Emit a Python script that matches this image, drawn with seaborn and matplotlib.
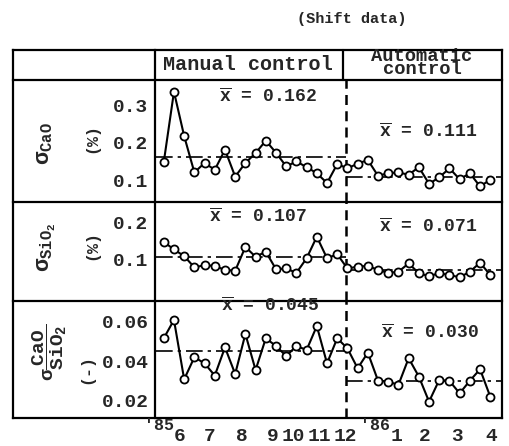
import numpy as np
import pandas as pd
import matplotlib
matplotlib.use('Agg')
import matplotlib.pyplot as plt
import seaborn as sns

# shift data: three readings a month, May '85 .. Apr '86
# first 18 readings manual control, the rest automatic control
n_manual = 18
period = 5.45 + np.arange(33) / 3.0

sigma_cao = [0.149, 0.335, 0.218, 0.122, 0.147, 0.129, 0.182, 0.111, 0.147, 0.173,
             0.206, 0.174, 0.138, 0.151, 0.136, 0.120, 0.094, 0.144,
             0.133, 0.145, 0.155, 0.113, 0.120, 0.122, 0.116, 0.136, 0.092, 0.109,
             0.133, 0.104, 0.120, 0.085, 0.103]
sigma_sio2 = [0.148, 0.127, 0.109, 0.078, 0.084, 0.082, 0.071, 0.069, 0.134, 0.107,
              0.121, 0.073, 0.075, 0.063, 0.103, 0.162, 0.103, 0.114,
              0.075, 0.080, 0.082, 0.071, 0.063, 0.066, 0.089, 0.062, 0.054, 0.062,
              0.057, 0.051, 0.066, 0.091, 0.057]
sigma_ratio = [0.0516, 0.0609, 0.0308, 0.0420, 0.0389, 0.0327, 0.0470, 0.0335, 0.0538, 0.0355,
               0.0516, 0.0477, 0.0426, 0.0477, 0.0457, 0.0578, 0.0389, 0.0516,
               0.0465, 0.0364, 0.0443, 0.0301, 0.0296, 0.0280, 0.0415, 0.0322, 0.0195, 0.0305,
               0.0300, 0.0237, 0.0301, 0.0359, 0.0220]

mean_cao = [0.162, 0.111]
mean_sio2 = [0.107, 0.071]
mean_ratio = [0.045, 0.030]

month_ticks = [6, 7, 8, 9, 10, 11, 12, 13, 14, 15, 16]
# typed labels drift off the ticks a little
month_label_pos = [5.98, 6.96, 7.99, 9.02, 9.67, 10.55, 11.37, 13.06, 13.98, 15.02, 16.16]
month_labels = ['6', '7', '8', '9', '10', '11', '12', '1', '2', '3', '4']
split = 11.40

sns.set_style('white')
plt.rcParams['font.family'] = ['Liberation Mono', 'DejaVu Sans']
plt.rcParams['font.weight'] = 'bold'
plt.rcParams['mathtext.fontset'] = 'custom'
plt.rcParams['mathtext.rm'] = 'Liberation Mono:bold'
plt.rcParams['mathtext.it'] = 'Liberation Mono:bold'
plt.rcParams['mathtext.bf'] = 'Liberation Mono:bold'

W, H = 509, 446
fig = plt.figure(figsize=(W / 100, H / 100), dpi=100)
bg = fig.add_axes([0, 0, 1, 1])
bg.set_xlim(0, W)
bg.set_ylim(H, 0)
bg.axis('off')

L, R, X0 = 13, 502, 155.5
rows = [50, 80, 202, 301, 418]
for y in rows:
    bg.plot([L, R], [y, y], color='k', lw=1.6, solid_capstyle='projecting')
for x in [L, X0, R]:
    bg.plot([x, x], [rows[0], rows[-1]], color='k', lw=1.6, solid_capstyle='projecting')
bg.plot([343.5, 343.5], [rows[0], rows[1]], color='k', lw=1.6)

bg.text(352, 19, '(Shift data)', fontsize=11, ha='center', va='center')
bg.text(248, 65, 'Manual control', fontsize=14.5, ha='center', va='center')
bg.text(422, 63, 'Automatic\ncontrol', fontsize=13.5, ha='center', va='center', linespacing=0.75)

# left column labels
bg.text(45, 144, r'σ$_{\mathrm{CaO}}$', fontsize=16, rotation=90, ha='center', va='center')
bg.text(92, 138, '(%)', fontsize=12, rotation=90, ha='center', va='center')
bg.text(47, 247, r'σ$_{\mathrm{SiO_2}}$', fontsize=16, rotation=90, ha='center', va='center')
bg.text(92, 245, '(%)', fontsize=12, rotation=90, ha='center', va='center')
bg.text(50, 352, r'σ$\dfrac{\mathrm{CaO}}{\mathrm{SiO_2}}$', fontsize=14, rotation=90, ha='center', va='center')
bg.text(87, 369, '(-)', fontsize=12, rotation=90, ha='center', va='center')

panels = [
    (sigma_cao, mean_cao, [0.1, 0.2, 0.3], ['0.1', '0.2', '0.3'], (0.044, 0.366),
     [(268, 97), (428, 132)]),
    (sigma_sio2, mean_sio2, [0.1, 0.2], ['0.1', '0.2'], (-0.014, 0.257),
     [(258, 217), (428, 227)]),
    (sigma_ratio, mean_ratio, [0.02, 0.04, 0.06], ['0.02', '0.04', '0.06'], (0.0112, 0.0705),
     [(270, 306), (430, 333)]),
]

xlo, xhi = 5.18, 16.5
for i, (vals, means, yt, ytl, ylim, txt_pos) in enumerate(panels):
    top, bot = rows[i + 1], rows[i + 2]
    ax = fig.add_axes([X0 / W, 1 - bot / H, (R - X0) / W, (bot - top) / H])
    ax.patch.set_alpha(0)
    df = pd.DataFrame({'period': period, 'sigma': vals})
    sns.lineplot(data=df, x='period', y='sigma', ax=ax, color='k', lw=1.5,
                 marker='o', markersize=5.8, markerfacecolor='white',
                 markeredgecolor='k', markeredgewidth=1.3, zorder=3)
    ax.hlines(means[0], xlo, split, color='k', lw=1.2, linestyles=[(0, (10, 3, 2, 3))])
    ax.hlines(means[1], split, xhi, color='k', lw=1.2, linestyles=[(0, (10, 3, 2, 3))])
    ax.axvline(split, color='k', lw=1.8, ls=(0, (4, 2.5)))
    ax.set_xlim(xlo, xhi)
    ax.set_ylim(*ylim)
    ax.set_xticks(month_ticks)
    ax.set_yticks(yt)
    ax.set_yticklabels(ytl)
    ax.set_xlabel('')
    ax.set_ylabel('')
    ax.tick_params(direction='in', length=4, width=1.3, labelsize=14, pad=5, color='k')
    ax.tick_params(axis='x', labelbottom=False)
    if i == 2:
        ax.set_xticks(month_label_pos, minor=True)
        ax.set_xticklabels(month_labels, minor=True)
        ax.tick_params(axis='x', which='minor', length=0, pad=7, labelsize=14)
    for s in ax.spines.values():
        s.set_visible(False)
    for (tx, ty), m in zip(txt_pos, means):
        bg.text(tx, ty, r'$\overline{\mathrm{x}}$ = ' + '{:.3f}'.format(m), fontsize=13,
                ha='center', va='center', zorder=5)

bg.text(159, 426, "'85", fontsize=12, ha='center', va='center')
bg.text(375, 426, "'86", fontsize=12, ha='center', va='center')

fig.savefig('out.png', dpi=100)
